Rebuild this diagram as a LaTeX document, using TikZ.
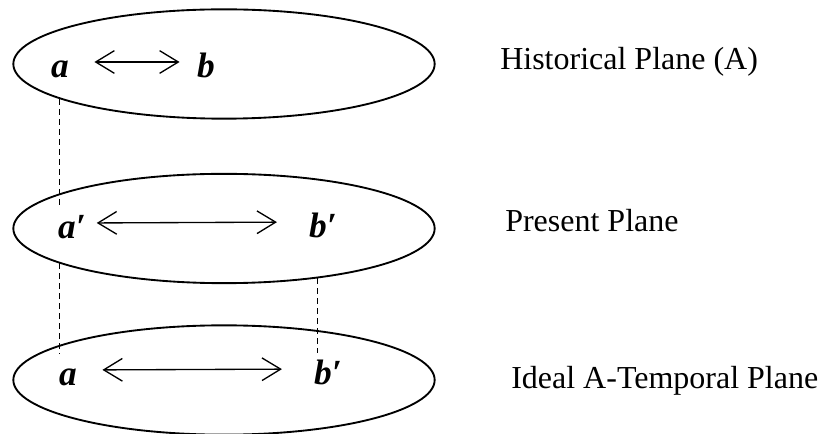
\documentclass[tikz,border=0pt]{standalone}
\usepackage{fontspec}
\setmainfont{Liberation Serif}
\usepackage{tikz}
\usetikzlibrary{shapes.geometric,arrows.meta}

\tikzset{
  plane/.style={ellipse, draw, line width=1.4pt, inner sep=0pt,
    minimum width=316pt, minimum height=82pt},
  letter/.style={font=\fontsize{26.5}{30}\selectfont\bfseries\itshape,
    inner sep=0pt, text height=24pt, text depth=0pt, anchor=base},
  planename/.style={font=\fontsize{24}{28}\selectfont, inner sep=0pt,
    anchor=base west},
  twoway/.style={{Straight Barb[length=14pt,width=17pt]}-{Straight Barb[length=14pt,width=17pt]},
    line width=1pt},
  link/.style={line width=1pt, dash pattern=on 4.5pt off 3pt}
}

\begin{document}
\begin{tikzpicture}[x=0.75pt, y=-0.75pt]
  \useasboundingbox (0,0) rectangle (821,434);

  % ── Planes ────────────────────────────────────────────────────────────────
  \node[plane] (pa) at (224,64) {};
  \node[plane] (pb) at (224,228.5) {};
  \node[plane] (pc) at (224,380) {};

  \node[planename] (na) at (500,70)  {Historical Plane (A)};
  \node[planename] (nb) at (505,232) {Present Plane};
  \node[planename] (nc) at (511,389) {Ideal A-Temporal Plane};

  % ── Historical plane ──────────────────────────────────────────────────────
  \node[letter] (a1) at (60,78)  {a};
  \node[letter] (b1) at (206,78) {b};
  \draw[twoway, shorten <=19pt, shorten >=13pt] (a1.east) -- (b1.west);

  % ── Present plane ─────────────────────────────────────────────────────────
  \node[letter] (a2) at (72,239)  {a′};
  \node[letter] (b2) at (323,238) {b′};
  \draw[twoway, shorten <=8pt, shorten >=24pt] (a2.east) -- (b2.west);

  % ── Ideal plane ───────────────────────────────────────────────────────────
  \node[letter] (a3) at (68,386)  {a};
  \node[letter] (b3) at (328,385) {b′};
  \draw[twoway, shorten <=19pt, shorten >=24pt] (a3.east) -- (b3.west);

  % ── Links between the planes ──────────────────────────────────────────────
  \draw[link] (pa.192.1) -- (pa.192.1 |- a2.north);
  \draw[link] (pb.192.9) -- (pb.192.9 |- a3.north);
  \draw[link] (pb.332.4) -- (pb.332.4 |- b3.north);

\end{tikzpicture}
\end{document}
